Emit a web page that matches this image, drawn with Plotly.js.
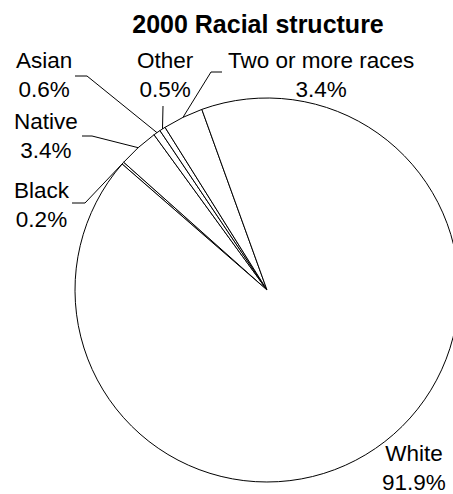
<!DOCTYPE html>
<html><head><meta charset="utf-8">
<script src="https://cdn.plot.ly/plotly-3.0.1.min.js"></script>
<style>html,body{margin:0;padding:0;overflow:hidden;background:#fff}#chart{width:520px;height:494px}</style>
</head><body><div id="chart"></div>
<script>
// ---- data ----
const labels = ['Black', 'Native', 'Asian', 'Other', 'Two or more races', 'White'];
const values = [0.2, 3.4, 0.6, 0.5, 3.4, 91.9];
const chartTitle = '2000 Racial structure';

// ---- layout / style ----
const W = 520, H = 494;
const M = {l: 75, r: 61, t: 98, b: 12};
const ROT = -49;
const FONT = 'Liberation Sans, Arial, sans-serif';
const labelPos = {            // label block centres (px)
  'Black': [42, 204.5],
  'Native': [46, 135.5],
  'Asian': [44, 75],
  'Other': [165, 75],
  'Two or more races': [321, 75],
  'White': [414, 468]
};
const elbows = {              // leader line start / elbow points (px)
  'Black': [[72, 203], [85, 203]],
  'Native': [[82, 136], [92, 136]],
  'Asian': [[75, 76], [87, 76]],
  'Other': [[163, 106]],
  'Two or more races': [[222, 72], [211, 72]],
  'White': []
};

const pw = W - M.l - M.r, ph = H - M.t - M.b;
const px2x = p => (p - M.l) / pw;
const py2y = p => (H - M.b - p) / ph;

const total = values.reduce((a, b) => a + b, 0);
let ang = ROT;
const annotations = [], shapes = [];
labels.forEach((lab, i) => {
  const span = values[i] / total * 360;
  const mid = (ang + span / 2) * Math.PI / 180;
  ang += span;
  const ex = 0.5 + 0.5 * Math.sin(mid);
  const ey = 0.5 + 0.5 * Math.cos(mid);
  const pct = (values[i] / total * 100).toFixed(1) + '%';
  const lp = labelPos[lab];
  annotations.push({
    xref: 'paper', yref: 'paper', x: px2x(lp[0]), y: py2y(lp[1]),
    xanchor: 'center', yanchor: 'middle', showarrow: false,
    text: lab + '<br>' + pct, align: 'center',
    font: {family: FONT, size: 22.5, color: '#000'}
  });
  const pts = elbows[lab];
  if (pts.length) {
    let d = 'M ' + pts.map(p => px2x(p[0]) + ' ' + py2y(p[1])).join(' L ') + ' L ' + ex + ' ' + ey;
    shapes.push({type: 'path', xref: 'paper', yref: 'paper', path: d,
      line: {color: '#000', width: 1}});
  }
});

const trace = {
  type: 'pie', labels: labels, values: values, sort: false,
  direction: 'clockwise', rotation: ROT, textinfo: 'none',
  marker: {colors: labels.map(() => '#fff'), line: {color: '#000', width: 1}},
  hoverinfo: 'label+percent', showlegend: false
};

const layout = {
  width: W, height: H, autosize: false, margin: M,
  paper_bgcolor: '#fff', plot_bgcolor: '#fff',
  title: {text: '<b>' + chartTitle + '</b>', xref: 'paper', x: px2x(258), xanchor: 'center',
          yref: 'container', y: 1 - 24 / H, yanchor: 'middle',
          font: {family: FONT, size: 25, color: '#000'}},
  annotations: annotations, shapes: shapes, showlegend: false
};

Plotly.newPlot('chart', [trace], layout, {displayModeBar: false, staticPlot: true});
</script>
</body></html>
